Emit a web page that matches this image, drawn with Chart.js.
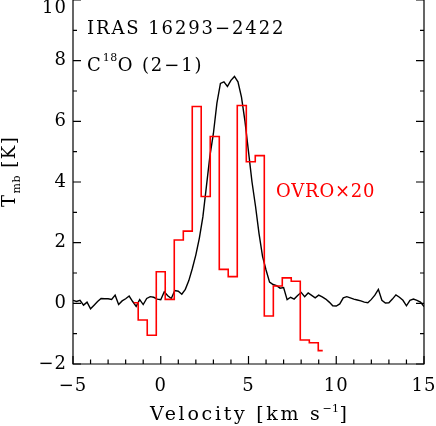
<!DOCTYPE html>
<html lang="en">
<head>
    <meta charset="UTF-8">
    <title>IRAS 16293-2422 C18O (2-1)</title>
    <script src="https://cdn.jsdelivr.net/npm/chart.js"></script>
    <style>
        body { margin: 0; background: #fff; }
        #spec { display: block; }
    </style>
</head>
<body>
    <canvas id="spec" width="436" height="426"></canvas>

    <script>
        // single dish spectrum (black), km/s and K
        const singleDishVel = [
            -5.0, -4.8, -4.6, -4.4, -4.2, -4.0, -3.8, -3.6, -3.4, -3.2,
            -3.0, -2.8, -2.6, -2.4, -2.2, -2.0, -1.8, -1.6, -1.4, -1.2,
            -1.0, -0.8, -0.6, -0.4, -0.2, 0.0, 0.2, 0.4, 0.6, 0.8,
            1.0, 1.2, 1.4, 1.6, 1.8, 2.0, 2.2, 2.4, 2.6, 2.8,
            3.0, 3.2, 3.4, 3.6, 3.8, 4.0, 4.2, 4.4, 4.6, 4.8,
            5.0, 5.2, 5.4, 5.6, 5.8, 6.0, 6.2, 6.4, 6.6, 6.8,
            7.0, 7.2, 7.4, 7.6, 7.8, 8.0, 8.2, 8.4, 8.6, 8.8,
            9.0, 9.2, 9.4, 9.6, 9.8, 10.0, 10.2, 10.4, 10.6, 10.8,
            11.0, 11.2, 11.4, 11.6, 11.8, 12.0, 12.2, 12.4, 12.6, 12.8,
            13.0, 13.2, 13.4, 13.6, 13.8, 14.0, 14.2, 14.4, 14.6, 14.8,
            15.0
        ];
        const singleDishTmb = [
            0.10, 0.06, 0.10, -0.06, 0.04, -0.18, -0.06, 0.06, 0.16, 0.15,
            0.15, 0.13, 0.27, -0.04, 0.08, 0.15, 0.24, 0.06, -0.10, 0.12,
            -0.04, 0.16, 0.22, 0.20, 0.14, 0.12, 0.38, 0.25, 0.16, 0.42,
            0.40, 0.30, 0.46, 0.75, 1.15, 1.60, 2.15, 2.85, 3.85, 4.85,
            5.60, 6.60, 7.25, 7.30, 7.15, 7.35, 7.48, 7.30, 6.80, 6.00,
            5.00, 4.00, 3.20, 2.30, 1.55, 1.10, 0.70, 0.62, 0.58, 0.50,
            0.52, 0.12, 0.20, 0.14, 0.26, 0.36, 0.22, 0.34, 0.26, 0.18,
            0.27, 0.21, 0.14, 0.04, -0.08, -0.09, -0.02, 0.18, 0.22, 0.18,
            0.14, 0.11, 0.08, 0.04, 0.02, 0.13, 0.27, 0.46, 0.10, 0.01,
            0.02, 0.14, 0.28, 0.20, 0.10, -0.08, 0.10, 0.14, 0.10, 0.04,
            -0.11
        ];

        // OVRO spectrum x20 (red histogram)
        const ovroVel = [
            -1.54, -1.03, -0.51, 0.00, 0.51, 1.03, 1.54, 2.05, 2.56, 3.08, 3.59,
            4.10, 4.62, 5.13, 5.64, 6.16, 6.67, 7.18, 7.69, 8.21, 8.72, 9.23
        ];
        const ovroTmb = [
            0.02, -0.55, -1.05, 1.04, 0.13, 2.09, 2.38, 6.49, 3.52, 5.50, 1.12,
            0.88, 6.52, 4.67, 4.87, -0.42, 0.57, 0.84, 0.73, -1.21, -1.30, -1.56
        ];

        const xTicks = [-5, 0, 5, 10, 15];
        const yTicks = [-2, 0, 2, 4, 6, 8, 10];

        const FONT = "'DejaVu Serif', serif";
        const MINUS = '\u2212';

        function fmt(v) {
            return v < 0 ? MINUS + Math.abs(v) : String(v);
        }

        // draw a line of text made of runs with different size / baseline shift
        function drawRuns(ctx, x, y, runs, color, spacing) {
            ctx.fillStyle = color;
            ctx.textAlign = 'left';
            ctx.textBaseline = 'alphabetic';
            let cx = x;
            runs.forEach(r => {
                ctx.font = r.size + 'px ' + FONT;
                ctx.letterSpacing = (r.sp !== undefined ? r.sp : spacing) + 'px';
                ctx.fillText(r.t, cx, y + (r.dy || 0));
                cx += ctx.measureText(r.t).width;
            });
            ctx.letterSpacing = '0px';
        }

        const idlAxes = {
            id: 'idlAxes',
            afterDraw(chart) {
                const ctx = chart.ctx;
                const a = chart.chartArea;
                const xs = chart.scales.x;
                const ys = chart.scales.y;
                ctx.save();
                ctx.strokeStyle = '#000';
                ctx.lineWidth = 1.2;

                // frame (top edge lies outside the picture)
                ctx.beginPath();
                ctx.moveTo(a.left, a.top);
                ctx.lineTo(a.left, a.bottom);
                ctx.lineTo(a.right, a.bottom);
                ctx.lineTo(a.right, a.top);
                ctx.stroke();

                // inward ticks
                ctx.beginPath();
                for (let v = xs.min; v <= xs.max; v += 1) {
                    const px = xs.getPixelForValue(v);
                    const len = xTicks.includes(v) ? 8 : 4.5;
                    ctx.moveTo(px, a.bottom);
                    ctx.lineTo(px, a.bottom - len);
                }
                for (let v = ys.min; v <= ys.max; v += 1) {
                    const py = ys.getPixelForValue(v);
                    const len = yTicks.includes(v) ? 8 : 4;
                    ctx.moveTo(a.left, py);
                    ctx.lineTo(a.left + len, py);
                    ctx.moveTo(a.right, py);
                    ctx.lineTo(a.right - len, py);
                }
                ctx.stroke();

                // tick labels
                ctx.fillStyle = '#000';
                ctx.font = '18px ' + FONT;
                ctx.letterSpacing = '1px';
                ctx.textBaseline = 'middle';
                ctx.textAlign = 'right';
                yTicks.forEach(v => {
                    const py = Math.max(ys.getPixelForValue(v), 8);
                    ctx.fillText(fmt(v), a.left - 6, py);
                });
                ctx.textAlign = 'center';
                xTicks.forEach(v => {
                    ctx.fillText(fmt(v), xs.getPixelForValue(v), 386);
                });
                ctx.letterSpacing = '0px';

                // annotations
                drawRuns(ctx, 87, 34, [{ t: 'IRAS 16293' + MINUS + '2422', size: 18 }], '#000', 1.9);
                drawRuns(ctx, 87, 71, [
                    { t: 'C', size: 18 },
                    { t: '18', size: 11, dy: -10, sp: 0.5 },
                    { t: 'O (2' + MINUS + '1)', size: 18 }
                ], '#000', 1.9);
                drawRuns(ctx, 276, 197, [{ t: 'OVRO\u00d720', size: 18 }], '#ff0000', 0.8);

                // axis titles
                drawRuns(ctx, 150, 420, [
                    { t: 'Velocity [km s', size: 19 },
                    { t: MINUS + '1', size: 11, dy: -8, sp: 0.5 },
                    { t: ']', size: 19 }
                ], '#000', 2.7);

                ctx.translate(15, 207);
                ctx.rotate(-Math.PI / 2);
                drawRuns(ctx, 0, 0, [
                    { t: 'T', size: 18 },
                    { t: 'mb', size: 11, dy: 5, sp: 0.5 },
                    { t: ' [K]', size: 18 }
                ], '#000', 1.5);
                ctx.restore();
            }
        };

        const ctx = document.getElementById('spec').getContext('2d');
        new Chart(ctx, {
            type: 'line',
            data: {
                datasets: [
                    {
                        label: 'OVRO x20',
                        data: ovroVel.map((v, i) => ({ x: v, y: ovroTmb[i] })),
                        borderColor: '#ff0000',
                        borderWidth: 1.6,
                        stepped: 'middle',
                        pointRadius: 0,
                        fill: false
                    },
                    {
                        label: 'single dish',
                        data: singleDishVel.map((v, i) => ({ x: v, y: singleDishTmb[i] })),
                        borderColor: '#000',
                        borderWidth: 1.4,
                        pointRadius: 0,
                        tension: 0,
                        fill: false
                    }
                ]
            },
            options: {
                responsive: false,
                animation: false,
                layout: { padding: { left: 73, right: 12, top: 0, bottom: 62 } },
                plugins: {
                    legend: { display: false },
                    tooltip: { enabled: false }
                },
                scales: {
                    x: { type: 'linear', min: -5, max: 15, display: false },
                    y: { type: 'linear', min: -2, max: 10, display: false }
                }
            },
            plugins: [idlAxes]
        });
    </script>
</body>
</html>
